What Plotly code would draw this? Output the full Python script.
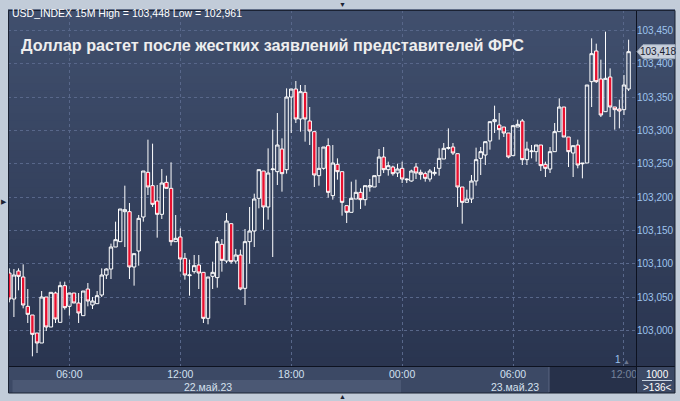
import plotly.graph_objects as go
import pandas as pd

# ---- data (USD_INDEX, 15M candles, 22-23 May 2023) ----
start_time = "2023-05-22 02:45"

opens = [
    103.086, 103.047, 103.089, 103.080, 103.036, 103.023, 102.996, 102.981, 103.050, 103.005,
    103.056, 103.012, 103.067, 103.036, 103.056, 103.041, 103.022, 103.062, 103.038, 103.040,
    103.053, 103.083, 103.092, 103.125, 103.133, 103.178, 103.178, 103.095, 103.119, 103.170,
    103.237, 103.217, 103.194, 103.174, 103.222, 103.213, 103.133, 103.140, 103.108, 103.082,
    103.088, 103.098, 103.087, 103.018, 103.081, 103.079, 103.129, 103.104, 103.160, 103.104,
    103.113, 103.063, 103.133, 103.149, 103.198, 103.239, 103.185, 103.241, 103.238, 103.272,
    103.241, 103.350, 103.362, 103.317, 103.357, 103.314, 103.298, 103.232, 103.243, 103.277,
    103.202, 103.249, 103.238, 103.187, 103.177, 103.197, 103.207, 103.196, 103.215, 103.215,
    103.232, 103.260, 103.241, 103.245, 103.236, 103.243, 103.227, 103.224, 103.245, 103.237,
    103.235, 103.227, 103.235, 103.243, 103.257, 103.273, 103.275, 103.265, 103.215, 103.192,
    103.197, 103.224, 103.258, 103.263, 103.284, 103.313, 103.308, 103.305, 103.296, 103.262,
    103.305, 103.314, 103.256, 103.268, 103.268, 103.278, 103.249, 103.242, 103.268, 103.298,
    103.335, 103.290, 103.266, 103.278, 103.251, 103.251, 103.373, 103.419, 103.377, 103.328,
    103.380, 103.335, 103.332, 103.331, 103.362,
]
highs = [
    103.093, 103.092, 103.093, 103.099, 103.062, 103.023, 102.996, 103.059, 103.050, 103.057,
    103.058, 103.073, 103.073, 103.056, 103.056, 103.056, 103.059, 103.071, 103.050, 103.059,
    103.093, 103.093, 103.130, 103.163, 103.182, 103.217, 103.191, 103.115, 103.173, 103.239,
    103.286, 103.280, 103.218, 103.242, 103.232, 103.252, 103.173, 103.153, 103.116, 103.106,
    103.113, 103.113, 103.087, 103.080, 103.103, 103.140, 103.137, 103.176, 103.160, 103.122,
    103.121, 103.152, 103.185, 103.205, 103.241, 103.239, 103.273, 103.301, 103.326, 103.288,
    103.363, 103.362, 103.374, 103.368, 103.368, 103.335, 103.298, 103.275, 103.275, 103.288,
    103.278, 103.258, 103.238, 103.187, 103.223, 103.226, 103.213, 103.217, 103.227, 103.232,
    103.272, 103.275, 103.253, 103.247, 103.250, 103.253, 103.228, 103.241, 103.251, 103.241,
    103.238, 103.242, 103.245, 103.273, 103.281, 103.303, 103.281, 103.265, 103.215, 103.211,
    103.233, 103.274, 103.275, 103.283, 103.313, 103.337, 103.326, 103.305, 103.296, 103.307,
    103.316, 103.317, 103.283, 103.278, 103.278, 103.278, 103.253, 103.275, 103.311, 103.348,
    103.335, 103.290, 103.277, 103.286, 103.251, 103.368, 103.438, 103.430, 103.406, 103.448,
    103.393, 103.335, 103.346, 103.383, 103.436,
]
lows = [
    103.042, 103.020, 103.060, 103.033, 103.011, 102.961, 102.966, 102.981, 102.999, 103.005,
    103.011, 103.012, 103.031, 103.022, 103.041, 103.011, 103.022, 103.036, 103.032, 103.040,
    103.050, 103.077, 103.077, 103.125, 103.133, 103.125, 103.077, 103.067, 103.097, 103.163,
    103.203, 103.185, 103.139, 103.167, 103.213, 103.127, 103.133, 103.088, 103.076, 103.052,
    103.085, 103.062, 103.011, 103.009, 103.062, 103.064, 103.088, 103.101, 103.100, 103.100,
    103.060, 103.038, 103.100, 103.125, 103.183, 103.151, 103.166, 103.110, 103.218, 103.208,
    103.235, 103.296, 103.311, 103.298, 103.283, 103.278, 103.215, 103.217, 103.241, 103.199,
    103.196, 103.226, 103.172, 103.161, 103.177, 103.197, 103.182, 103.187, 103.208, 103.215,
    103.221, 103.236, 103.232, 103.232, 103.230, 103.221, 103.221, 103.223, 103.227, 103.226,
    103.223, 103.223, 103.232, 103.232, 103.257, 103.271, 103.263, 103.185, 103.160, 103.192,
    103.191, 103.217, 103.233, 103.248, 103.271, 103.296, 103.286, 103.290, 103.258, 103.262,
    103.305, 103.248, 103.248, 103.258, 103.253, 103.239, 103.230, 103.236, 103.268, 103.298,
    103.290, 103.245, 103.230, 103.243, 103.228, 103.251, 103.335, 103.371, 103.320, 103.328,
    103.320, 103.301, 103.303, 103.323, 103.359,
]
closes = [
    103.047, 103.083, 103.081, 103.038, 103.024, 102.994, 102.981, 103.050, 103.005, 103.057,
    103.017, 103.067, 103.034, 103.056, 103.041, 103.026, 103.059, 103.044, 103.044, 103.052,
    103.083, 103.092, 103.125, 103.136, 103.182, 103.181, 103.095, 103.115, 103.168, 103.239,
    103.215, 103.189, 103.174, 103.221, 103.213, 103.133, 103.138, 103.107, 103.083, 103.083,
    103.097, 103.086, 103.018, 103.080, 103.087, 103.133, 103.105, 103.164, 103.103, 103.113,
    103.062, 103.133, 103.149, 103.197, 103.241, 103.185, 103.236, 103.242, 103.278, 103.235,
    103.350, 103.362, 103.317, 103.358, 103.317, 103.299, 103.233, 103.243, 103.275, 103.207,
    103.251, 103.238, 103.192, 103.177, 103.198, 103.207, 103.196, 103.217, 103.217, 103.232,
    103.260, 103.241, 103.247, 103.235, 103.242, 103.227, 103.226, 103.239, 103.236, 103.234,
    103.228, 103.239, 103.237, 103.258, 103.273, 103.274, 103.266, 103.215, 103.192, 103.197,
    103.224, 103.256, 103.268, 103.283, 103.313, 103.316, 103.301, 103.296, 103.260, 103.307,
    103.309, 103.256, 103.272, 103.269, 103.278, 103.247, 103.243, 103.268, 103.298, 103.335,
    103.290, 103.268, 103.277, 103.248, 103.250, 103.368, 103.415, 103.373, 103.323, 103.378,
    103.335, 103.331, 103.329, 103.368, 103.418,
]
assert len(opens) == len(highs) == len(lows) == len(closes) == 135

x_tick_vals = ["2023-05-22 06:00", "2023-05-22 12:00", "2023-05-22 18:00",
               "2023-05-23 00:00", "2023-05-23 06:00", "2023-05-23 12:00"]
x_tick_text = ["06:00", "12:00", "18:00", "00:00", "06:00",
               "<span style='color:#76839c'>12:00</span>"]
y_tick_vals = [103.000, 103.050, 103.100, 103.150, 103.200, 103.250,
               103.300, 103.350, 103.400, 103.450]
y_range = [102.9465, 103.4805]
x_range = ["2023-05-22 02:40:48", "2023-05-23 12:39:00"]
date_labels = ["22.май.23", "23.май.23"]
header_text = "USD_INDEX 15M High = 103,448 Low = 102,961"
title_text = "Доллар растет после жестких заявлений представителей ФРС"
last_price = closes[-1]

times = pd.date_range(start_time, periods=len(opens), freq="15min")

FONT = "Liberation Sans"
W, H = 680, 401
ML, MR, MT, MB = 8, 44, 10, 35
PW = W - ML - MR
PH = H - MT - MB


def px(xp):
    return (xp - ML) / PW


def py(yp):
    return 1 - (yp - MT) / PH


def lerp(c1, c2, t):
    return "#%02x%02x%02x" % tuple(round(a + (b - a) * t) for a, b in zip(c1, c2))


fig = go.Figure(go.Candlestick(
    x=times, open=opens, high=highs, low=lows, close=closes,
    increasing=dict(line=dict(color="#ffffff", width=1), fillcolor="rgba(0,0,0,0)"),
    decreasing=dict(line=dict(color="#ffffff", width=1), fillcolor="#e8102f"),
    whiskerwidth=0, hoverinfo="skip", showlegend=False,
))

shapes = []
# gradient background of plot and right axis panel
top_c, bot_c = (0x40, 0x4f, 0x6d), (0x2a, 0x35, 0x50)
n = 48
for i in range(n):
    y1 = 1 - i / n
    y0 = 1 - (i + 1) / n
    shapes.append(dict(type="rect", xref="paper", yref="paper", x0=0, x1=px(675),
                       y0=y0, y1=y1 + 0.002, fillcolor=lerp(top_c, bot_c, i / (n - 1)),
                       line=dict(width=0), layer="below"))
# bottom time strip
shapes += [
    dict(type="rect", xref="paper", yref="paper", x0=0, x1=px(675), y0=py(393), y1=py(366),
         fillcolor="#3c4965", line=dict(width=0), layer="below"),
    dict(type="rect", xref="paper", yref="paper", x0=px(12.5), x1=px(401), y0=py(393), y1=py(380),
         fillcolor="#4b5874", line=dict(width=0), layer="below"),
    dict(type="rect", xref="paper", yref="paper", x0=px(549), x1=1, y0=py(393), y1=py(366),
         fillcolor="#27314a", line=dict(width=0), layer="below"),
    dict(type="line", xref="paper", yref="paper", x0=px(549), x1=px(549), y0=py(392), y1=py(367),
         line=dict(color="#5a6782", width=1)),
    # separating black lines
    dict(type="line", xref="paper", yref="paper", x0=0, x1=px(675), y0=py(366.5), y1=py(366.5),
         line=dict(color="#0d1220", width=1)),
    dict(type="line", xref="paper", yref="paper", x0=px(636.5), x1=px(636.5), y0=py(393), y1=1,
         line=dict(color="#0d1220", width=1)),
    # outer dark border
    dict(type="rect", xref="paper", yref="paper", x0=px(8.5), x1=px(675), y0=py(393), y1=py(10.5),
         fillcolor="rgba(0,0,0,0)", line=dict(color="#1b2233", width=1)),
    # corner separator line
    dict(type="line", xref="paper", yref="paper", x0=px(642), x1=px(672), y0=py(380.5), y1=py(380.5),
         line=dict(color="#c9d3e0", width=1)),
]
# last price tag
h = 7 * (y_range[1] - y_range[0]) / PH
shapes.append(dict(
    type="path", xref="paper", yref="y",
    path=f"M {px(637)},{last_price} L {px(643)},{last_price + h} L {px(675)},{last_price + h} "
         f"L {px(675)},{last_price - h} L {px(643)},{last_price - h} Z",
    fillcolor="#c8d0dc", line=dict(color="#9aa6b8", width=1),
))

annotations = [
    dict(text=header_text, xref="paper", yref="paper", x=px(10), y=py(13), xanchor="left",
         yanchor="middle", showarrow=False, font=dict(family=FONT, size=10.5, color="#ffffff")),
    dict(text=title_text, xref="paper", yref="paper", x=px(19), y=py(45), xanchor="left",
         yanchor="middle", showarrow=False,
         font=dict(family=FONT, size=16.2, color="#eeeeee", weight="bold")),
    dict(text=("%.3f" % last_price).replace(".", ","), xref="paper", yref="y", x=px(658),
         y=last_price, xanchor="center", yanchor="middle", showarrow=False,
         font=dict(family=FONT, size=10, color="#1a2030")),
    dict(text=date_labels[0], xref="paper", yref="paper", x=px(208), y=py(386.5), xanchor="center",
         yanchor="middle", showarrow=False, font=dict(family=FONT, size=10.5, color="#d5e0ee")),
    dict(text=date_labels[1], xref="paper", yref="paper", x=px(541), y=py(386.5), xanchor="right",
         yanchor="middle", showarrow=False, font=dict(family=FONT, size=10.5, color="#d5e0ee")),
    dict(text="1000", xref="paper", yref="paper", x=px(657), y=py(374), xanchor="center",
         yanchor="middle", showarrow=False, font=dict(family=FONT, size=10, color="#ffffff")),
    dict(text=">136<", xref="paper", yref="paper", x=px(657), y=py(387), xanchor="center",
         yanchor="middle", showarrow=False, font=dict(family=FONT, size=10, color="#ffffff")),
    dict(text="1", xref="paper", yref="paper", x=px(618), y=py(359), xanchor="center",
         yanchor="middle", showarrow=False, font=dict(family=FONT, size=10, color="#9cc3ee")),
    dict(text="▲", xref="paper", yref="paper", x=px(626), y=py(361), xanchor="center",
         yanchor="middle", showarrow=False, font=dict(family=FONT, size=7, color="#6d7890")),
    dict(text="▼", xref="paper", yref="paper", x=px(342), y=py(4), xanchor="center",
         yanchor="middle", showarrow=False, font=dict(family=FONT, size=7, color="#1b2233")),
    dict(text="▲", xref="paper", yref="paper", x=px(342), y=py(396.5), xanchor="center",
         yanchor="middle", showarrow=False, font=dict(family=FONT, size=7, color="#1b2233")),
    dict(text="▶", xref="paper", yref="paper", x=px(3.5), y=py(201), xanchor="center",
         yanchor="middle", showarrow=False, font=dict(family=FONT, size=7, color="#1b2233")),
]

fig.update_layout(
    width=W, height=H, margin=dict(l=ML, r=MR, t=MT, b=MB, autoexpand=False),
    paper_bgcolor="#c2ccd9", plot_bgcolor="rgba(0,0,0,0)",
    separators=", ", hovermode=False, showlegend=False,
    boxgap=0.2, boxgroupgap=0.08,
    shapes=shapes, annotations=annotations,
    font=dict(family=FONT),
    xaxis=dict(
        type="date", range=x_range, rangeslider=dict(visible=False), automargin=False,
        tickvals=x_tick_vals, ticktext=x_tick_text, ticks="",
        tickfont=dict(family=FONT, size=10.5, color="#d2e0f0"),
        showgrid=True, gridcolor="#58678a", griddash="3px,3px", gridwidth=1,
        zeroline=False, showline=False, fixedrange=True,
    ),
    yaxis=dict(
        side="right", range=y_range, tickvals=y_tick_vals, tickformat=".3f", ticks="",
        automargin=False,
        tickfont=dict(family=FONT, size=10, color="#9ec4ee"),
        showgrid=True, gridcolor="#58678a", griddash="3px,3px", gridwidth=1,
        zeroline=False, showline=False, fixedrange=True,
    ),
)

fig.write_html(
    "out.html",
    config={"displayModeBar": False, "staticPlot": True},
    post_script="document.body.style.margin='0';document.body.style.overflow='hidden';",
)
